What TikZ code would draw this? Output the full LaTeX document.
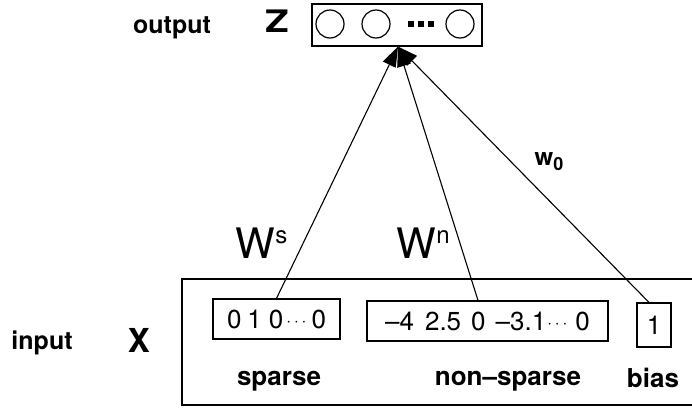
\documentclass[tikz,border=0pt]{standalone}
\usepackage{fontspec}
\usepackage{graphicx}
\setmainfont{TeX Gyre Heros}
\usetikzlibrary{arrows.meta}
\newcommand{\fsz}[1]{\fontsize{#1}{#1}\selectfont}
\newcommand{\dts}{\raisebox{2pt}{\fsz{16}$\cdots$}}
\begin{document}
\begin{tikzpicture}[x=1pt,y=-1pt,line width=1.2pt,
  box/.style={draw, inner sep=0pt, minimum height=40pt, font=\fsz{26}},
  lab/.style={font=\fsz{26}\bfseries, anchor=base, inner sep=0pt},
  unit/.style={draw, circle, minimum size=28pt, inner sep=0pt},
  dotsq/.style={fill, minimum size=6pt, inner sep=0pt},
  arr/.style={-{Triangle[length=20pt,width=14pt]}, line width=1.1pt}]
\useasboundingbox (0,0) rectangle (692,410);
% output layer
\node[draw, minimum width=170pt, minimum height=42pt, inner sep=0pt] (out) at (397,25) {};
\node[unit] (c1) at (330,24) {};
\node[unit] (c2) at (376,24) {};
\node[dotsq] (d1) at (411,24) {};
\node[dotsq] (d2) at (421,24) {};
\node[dotsq] (d3) at (431,24) {};
\node[unit] (c3) at (460,24) {};
\node[font=\fsz{25}\bfseries, anchor=base, inner sep=0pt] (outlab) at (172,33) {output};
\node[anchor=base, inner sep=0pt] (z) at (277,32) {\fsz{31}\bfseries\scalebox{1.25}[1]{Z}};
% input
\draw (692,279) -- (182,279) -- (182,405) -- (692,405);
\node[font=\fsz{25}\bfseries, anchor=base, inner sep=0pt] (inlab) at (42,349) {input};
\node[anchor=base, inner sep=0pt] (x) at (139,352) {\fsz{33}\bfseries X};
\node[box, minimum width=127pt] (sp) at (276.5,319) {0\hspace{6pt}1\hspace{7pt}0\hspace{3pt}\dts\hspace{5pt}0};
\node[box, minimum width=241pt] (ns) at (487.5,321) {–4\hspace{11pt}2.5\hspace{10pt}0\hspace{10pt}–3.1\hspace{1pt}\dts\hspace{8pt}0};
\node[box, minimum width=34pt, minimum height=44pt] (bi) at (654,325) {1};
\node[lab] (spl) at (279,385) {sparse};
\node[lab] (nsl) at (508,385) {non–sparse};
\node[lab] (bil) at (653,387) {bias};
% connections
\draw[arr] (sp.north) -- ([xshift=1pt]out.south);
\draw[arr] ([xshift=-9.5pt]ns.north) -- ([xshift=1pt]out.south);
\draw[arr] ([xshift=-5pt]bi.north) -- ([xshift=1pt]out.south);
% weight labels
\node[anchor=base west, inner sep=0pt] (ws) at (235,258) {\fsz{42}W\raisebox{15pt}{\fsz{24}s}};
\node[anchor=base west, inner sep=0pt] (wn) at (396,258) {\fsz{42}W\raisebox{15pt}{\fsz{24}n}};
\node[anchor=base west, inner sep=0pt] (w0) at (534,165) {\fsz{24}\bfseries w\raisebox{-5pt}{\fsz{18}\bfseries 0}};
\end{tikzpicture}
\end{document}
